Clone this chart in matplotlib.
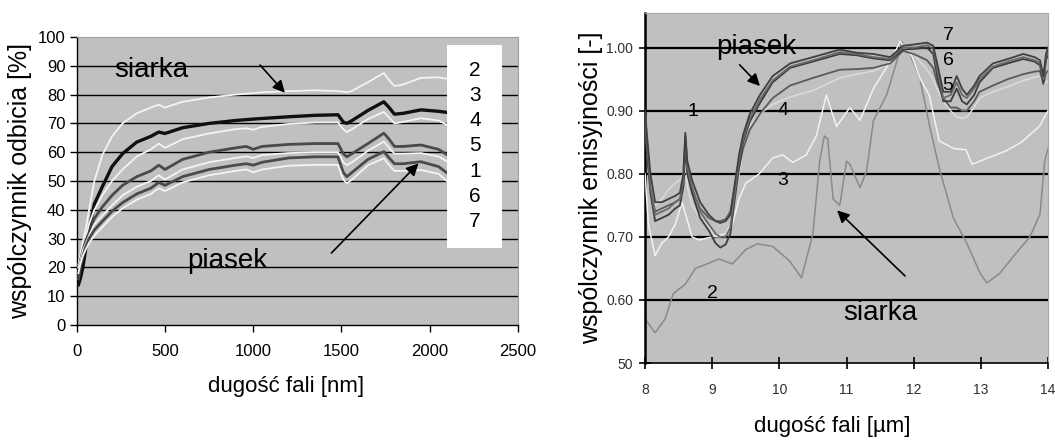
import matplotlib
matplotlib.use("Agg")
import matplotlib.pyplot as plt
from matplotlib.patches import Rectangle

plt.rcParams['font.family'] = ['Liberation Sans', 'DejaVu Sans']

# ---------------- left chart data (reflectance, %) ----------------
wl_nm = [10, 20, 35, 50, 70, 100, 145, 200, 260, 340, 420, 465, 500, 600, 750, 900,
         960, 1000, 1050, 1200, 1350, 1480, 1510, 1530, 1560, 1650, 1740, 1770, 1800,
         1850, 1950, 2050, 2100]
refl_2 = [21, 24, 29, 33, 40, 50, 59, 65.5, 70, 73.5, 75.5, 76.5, 75.5, 77.5, 79, 80,
          80.3, 80.5, 80.8, 81.2, 81.5, 81.2, 81, 80.8, 81.3, 84.3, 87.5, 85, 83,
          83.5, 85.8, 86, 85.5]
refl_3 = [14, 16, 20, 26, 33, 42, 48, 55, 59.5, 63.5, 65.5, 67, 66.5, 68.5, 70, 71,
          71.3, 71.5, 71.7, 72.3, 72.8, 73, 70.5, 70, 71, 74.5, 77.5, 75.5, 73.2,
          73.5, 74.7, 74.2, 73.8]
refl_4 = [20, 23, 27, 30, 35, 40, 45, 50, 54, 58.5, 61, 63, 61.5, 64.5, 66.5, 68,
          68.3, 67.8, 68.8, 69.8, 70.3, 70.3, 68, 67, 68, 71.5, 74, 72, 70,
          70.5, 71.8, 71, 69.4]
refl_5 = [18, 22, 26, 29, 32, 37, 41, 45, 48.5, 51.5, 53.5, 55.5, 54, 57.5, 60, 61.5,
          62, 61, 62, 62.7, 63, 63, 59.5, 58.4, 59.5, 63, 66.6, 64.5, 62,
          62, 62.5, 61, 59]
refl_1 = [20, 22, 26, 28, 31, 35, 38, 41.5, 45, 48, 50, 52, 50.5, 54, 56.5, 58,
          58.5, 58, 59, 59.7, 60, 60, 56.5, 55.5, 56.5, 60.5, 63.7, 61.5, 59.5,
          59.5, 59.7, 58.5, 56.7]
refl_6 = [16, 20, 24, 27, 30, 33, 36, 39.5, 42.5, 45.5, 47.5, 49.5, 48.5, 51.5, 54, 55.5,
          56, 55.5, 56.5, 58, 58.4, 58.4, 53, 51.5, 53, 57.5, 60.2, 58, 56,
          56, 56.7, 55, 52.7]
refl_7 = [18, 21, 24, 26, 28.5, 31, 34, 37.5, 40.5, 43.5, 45.5, 47.5, 46.5, 49.5, 52, 53.5,
          54, 53, 54, 55.3, 55.6, 55.6, 50.5, 49.2, 50.5, 55.5, 57.9, 55.5, 53.5,
          53.5, 53.8, 52.5, 49.8]
legend_labels = ['2', '3', '4', '5', '1', '6', '7']
left_yticks = [0, 10, 20, 30, 40, 50, 60, 70, 80, 90, 100]
left_xticks = [0, 500, 1000, 1500, 2000, 2500]

# ---------------- right chart data (emissivity) ----------------
wl_um = [8.0, 8.03, 8.08, 8.15, 8.25, 8.35, 8.45, 8.52, 8.57, 8.6, 8.63, 8.7, 8.82, 8.95,
         9.05, 9.12, 9.2, 9.27, 9.33, 9.4, 9.46, 9.56, 9.71, 9.9, 10.16, 10.5, 10.9,
         11.15, 11.4, 11.65, 11.84, 12.0, 12.2, 12.29, 12.35, 12.44, 12.55, 12.64,
         12.72, 12.79, 12.9, 12.98, 13.18, 13.4, 13.63, 13.8, 13.88, 13.93, 13.97, 14.0]
emis_7 = [0.90, 0.86, 0.80, 0.755, 0.755, 0.76, 0.765, 0.77, 0.80, 0.865, 0.82, 0.79,
          0.755, 0.735, 0.725, 0.722, 0.725, 0.735, 0.78, 0.83, 0.862, 0.895, 0.925,
          0.955, 0.975, 0.985, 0.997, 0.992, 0.99, 0.985, 1.003, 1.005, 1.008, 1.003,
          0.975, 0.93, 0.93, 0.955, 0.935, 0.925, 0.94, 0.955, 0.975, 0.982, 0.99,
          0.985, 0.98, 0.955, 0.99, 1.0]
emis_6 = [0.90, 0.85, 0.78, 0.735, 0.74, 0.745, 0.755, 0.76, 0.79, 0.86, 0.81, 0.78,
          0.74, 0.72, 0.705, 0.70, 0.70, 0.715, 0.765, 0.82, 0.855, 0.888, 0.918,
          0.948, 0.97, 0.98, 0.993, 0.99, 0.985, 0.982, 1.0, 1.0, 1.004, 0.998,
          0.965, 0.92, 0.925, 0.945, 0.925, 0.92, 0.935, 0.95, 0.97, 0.978, 0.985,
          0.98, 0.975, 0.95, 0.985, 0.995]
emis_1 = [0.89, 0.84, 0.77, 0.725, 0.73, 0.735, 0.745, 0.75, 0.78, 0.855, 0.80, 0.77,
          0.73, 0.71, 0.69, 0.683, 0.688, 0.705, 0.755, 0.81, 0.85, 0.883, 0.912,
          0.945, 0.968, 0.978, 0.99, 0.988, 0.983, 0.98, 0.997, 0.998, 1.0, 0.99,
          0.955, 0.915, 0.915, 0.935, 0.915, 0.91, 0.925, 0.945, 0.968, 0.975, 0.982,
          0.978, 0.972, 0.945, 0.98, 0.99]
emis_5 = [0.88, 0.83, 0.775, 0.74, 0.745, 0.75, 0.755, 0.76, 0.78, 0.84, 0.80, 0.775,
          0.745, 0.73, 0.725, 0.725, 0.728, 0.74, 0.775, 0.81, 0.84, 0.87, 0.895,
          0.92, 0.94, 0.952, 0.965, 0.966, 0.968, 0.975, 0.995, 0.99, 0.98, 0.968,
          0.945, 0.92, 0.905, 0.905, 0.90, 0.90, 0.915, 0.93, 0.94, 0.95, 0.958,
          0.962, 0.963, 0.942, 0.96, 0.963]
emis_4 = [0.90, 0.84, 0.77, 0.75, 0.76, 0.775, 0.785, 0.79, 0.80, 0.83, 0.78, 0.75,
          0.73, 0.715, 0.70, 0.70, 0.705, 0.72, 0.76, 0.80, 0.84, 0.875, 0.895,
          0.91, 0.922, 0.932, 0.952, 0.958, 0.963, 0.975, 1.0, 0.99, 0.965, 0.95,
          0.935, 0.915, 0.90, 0.89, 0.888, 0.89, 0.905, 0.92, 0.93, 0.938, 0.948,
          0.953, 0.955, 0.942, 0.945, 0.947]
wl_um_3 = [8.0, 8.05, 8.15, 8.25, 8.35, 8.45, 8.55, 8.62, 8.7, 8.8, 9.0, 9.2, 9.3, 9.4,
           9.5, 9.7, 9.9, 10.05, 10.2, 10.4, 10.55, 10.7, 10.85, 11.05, 11.2, 11.4,
           11.65, 11.8, 11.98, 12.1, 12.23, 12.38, 12.6, 12.78, 12.87, 13.1, 13.37,
           13.6, 13.87, 14.0]
emis_3 = [0.80, 0.72, 0.67, 0.69, 0.70, 0.72, 0.755, 0.73, 0.70, 0.695, 0.70, 0.705,
          0.72, 0.76, 0.785, 0.80, 0.825, 0.83, 0.818, 0.83, 0.86, 0.925, 0.875,
          0.905, 0.885, 0.935, 0.978, 1.01, 0.985, 0.95, 0.925, 0.852, 0.84, 0.838,
          0.815, 0.825, 0.836, 0.85, 0.875, 0.90]
wl_um_2 = [8.0, 8.15, 8.3, 8.42, 8.6, 8.75, 8.92, 9.1, 9.3, 9.5, 9.67, 9.9, 10.15,
           10.33, 10.5, 10.6, 10.67, 10.72, 10.8, 10.9, 11.0, 11.05, 11.2, 11.3, 11.4,
           11.6, 11.75, 11.82, 11.94, 12.09, 12.24, 12.39, 12.59, 12.79, 12.99, 13.09,
           13.28, 13.53, 13.73, 13.88, 13.95, 14.0]
emis_2 = [0.57, 0.548, 0.57, 0.61, 0.625, 0.65, 0.657, 0.665, 0.657, 0.68, 0.689, 0.685,
          0.662, 0.635, 0.705, 0.82, 0.86, 0.855, 0.76, 0.75, 0.82, 0.815, 0.778, 0.805,
          0.884, 0.926, 0.979, 1.01, 0.99, 0.953, 0.874, 0.805, 0.73, 0.69, 0.642,
          0.627, 0.642, 0.675, 0.70, 0.736, 0.82, 0.84]
right_yticks = [0.50, 0.60, 0.70, 0.80, 0.90, 1.00]
right_yticklabels = ['50', '0.60', '0.70', '0.80', '0.90', '1.00']
right_xticks = [8, 9, 10, 11, 12, 13, 14]

BG = '#c0c0c0'
fig = plt.figure(figsize=(10.55, 4.4), dpi=100)
fig.patch.set_facecolor('white')

# ================= LEFT =================
axL = fig.add_axes([0.0727, 0.2614, 0.4183, 0.6545])
axL.set_facecolor(BG)
axL.set_xlim(0, 2500)
axL.set_ylim(0, 100)
for v in left_yticks[1:-1]:
    axL.axhline(v, color='black', lw=1.0, zorder=1)
for s in ['top', 'right']:
    axL.spines[s].set_color('#a0a0a0')
for s in ['left', 'bottom']:
    axL.spines[s].set_color('black')
    axL.spines[s].set_linewidth(1.0)

styles = [
    (refl_2, '#f4f4f4', 1.3),
    (refl_3, '#101010', 2.4),
    (refl_4, '#f4f4f4', 1.3),
    (refl_5, '#4a4a4a', 2.0),
    (refl_1, '#f4f4f4', 1.3),
    (refl_6, '#4a4a4a', 2.0),
    (refl_7, '#f4f4f4', 1.3),
]
for vals, c, lw in styles:
    axL.plot(wl_nm, vals, color=c, lw=lw, zorder=3)

axL.set_xticks(left_xticks)
axL.set_yticks(left_yticks)
axL.tick_params(axis='both', direction='out', length=5, width=1, labelsize=12)
axL.tick_params(axis='x', pad=9)
axL.tick_params(axis='y', pad=3)
axL.set_xlabel('dugość fali [nm]', fontsize=16)
axL.xaxis.set_label_coords(0.475, (325 - 387) / 288)
axL.xaxis.label.set_va('center')
axL.set_ylabel('wspólczynnik odbicia [%]', fontsize=18, labelpad=4)

# legend-like box
axL.add_patch(Rectangle((0.839, 0.267), 0.1246, 0.705, transform=axL.transAxes,
                        facecolor='white', edgecolor='none', zorder=5))
for i, lab in enumerate(legend_labels):
    py = 70 + i * 25.3
    axL.text(0.9026, (325 - py) / 288, lab, transform=axL.transAxes,
             ha='center', va='center', fontsize=15, zorder=6)

axL.text(421, 86.2, 'siarka', fontsize=20, ha='center', va='baseline', zorder=6)
axL.text(851, 19.8, 'piasek', fontsize=20, ha='center', va='baseline', zorder=6)
axL.annotate('', xy=(1190, 79.9), xytext=(1028, 91),
             arrowprops=dict(arrowstyle='-|>', color='black', lw=1.2,
                             mutation_scale=18), zorder=6)
axL.annotate('', xy=(1947, 56.8), xytext=(1432, 24.3),
             arrowprops=dict(arrowstyle='-|>', color='black', lw=1.2,
                             mutation_scale=18), zorder=6)

# ================= RIGHT =================
axR = fig.add_axes([0.6114, 0.175, 0.3820, 0.7955])
axR.set_facecolor(BG)
axR.set_xlim(8, 14)
axR.set_ylim(0.5, 1.055)
for v in right_yticks[1:]:
    axR.axhline(v, color='black', lw=1.6, zorder=1)
for s in ['top', 'right']:
    axR.spines[s].set_color('#a8a8a8')
axR.spines['left'].set_color('black')
axR.spines['left'].set_linewidth(1.8)
axR.spines['bottom'].set_color('black')
axR.spines['bottom'].set_linewidth(1.2)

axR.plot(wl_um_2, emis_2, color='#8a8a8a', lw=1.1, zorder=2)
axR.plot(wl_um_3, emis_3, color='#f2f2f2', lw=1.1, zorder=3)
axR.plot(wl_um, emis_4, color='#dcdcdc', lw=1.1, zorder=3)
axR.plot(wl_um, emis_5, color='#5a5a5a', lw=1.3, zorder=4)
axR.plot(wl_um, emis_1, color='#3c3c3c', lw=1.3, zorder=4)
axR.plot(wl_um, emis_6, color='#6a6a6a', lw=1.3, zorder=4)
axR.plot(wl_um, emis_7, color='#404040', lw=1.3, zorder=4)

axR.set_xticks(right_xticks)
axR.set_yticks(right_yticks)
axR.set_yticklabels(right_yticklabels)
axR.tick_params(axis='both', direction='inout', length=9, width=1.2, labelsize=10,
                colors='black', labelcolor='#303030')
axR.tick_params(axis='y', pad=4)
axR.tick_params(axis='x', pad=10)
axR.set_xlabel('dugość fali [µm]', fontsize=16)
axR.xaxis.set_label_coords(0.465, (363 - 426) / 350)
axR.xaxis.label.set_va('center')
axR.set_ylabel('wspólczynnik emisyjności [-]', fontsize=18, labelpad=2)

for x, y, t in [(8.71, 0.898, '1'), (10.05, 0.90, '4'), (10.05, 0.79, '3'),
                (9.0, 0.61, '2'), (12.51, 1.02, '7'), (12.51, 0.979, '6'),
                (12.51, 0.94, '5')]:
    axR.text(x, y, t, fontsize=14, ha='center', va='center', zorder=6)

axR.text(9.65, 0.9896, 'piasek', fontsize=20, ha='center', va='baseline', zorder=6)
axR.text(11.5, 0.568, 'siarka', fontsize=20, ha='center', va='baseline', zorder=6)
axR.annotate('', xy=(9.74, 0.936), xytext=(9.38, 0.976),
             arrowprops=dict(arrowstyle='-|>', color='black', lw=1.2,
                             mutation_scale=18), zorder=6)
axR.annotate('', xy=(10.83, 0.745), xytext=(11.9, 0.635),
             arrowprops=dict(arrowstyle='-|>', color='black', lw=1.2,
                             mutation_scale=18), zorder=6)

fig.savefig('out.png', dpi=100, facecolor='white')
